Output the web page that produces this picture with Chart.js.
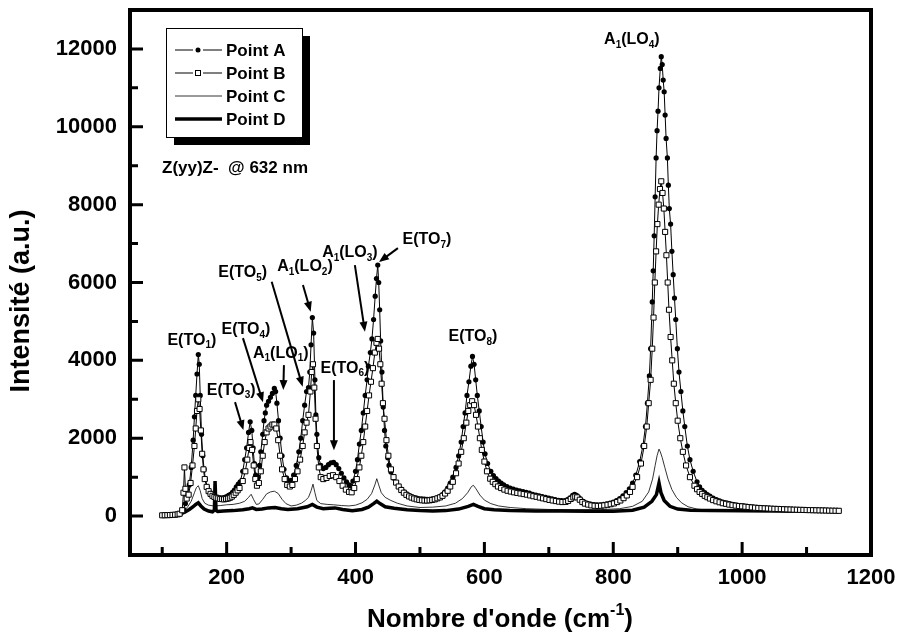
<!DOCTYPE html>
<html>
<head>
<meta charset="utf-8">
<script src="https://cdn.jsdelivr.net/npm/chart.js@4.4.1/dist/chart.umd.min.js"></script>
<style>
  html, body { margin: 0; padding: 0; background: #fff; }
  #wrap { width: 899px; height: 643px; }
</style>
</head>
<body>
<div id="wrap"><canvas id="raman" width="899" height="643"></canvas></div>
<script>
// spectra: [wavenumber cm-1, intensity a.u.]
const seriesNames = ['Point A', 'Point B', 'Point C', 'Point D'];

const pointA = [[100,20],[103,20],[106,22],[109,23],[112,25],[115,27],[118,30],[121,36],[124,45],[127,60],[129,80],[131,120],[133,170],[136,320],[139,520],[142,800],[145,1250],[148,1950],[150,2550],[152,3100],[154,3650],[156,4150],[157.5,3900],[159,3100],[161,2100],[163,1550],[165,1200],[167,950],[170,750],[173,620],[176,550],[179,510],[182,490],[185,470],[188,460],[191,460],[194,470],[197,480],[200,500],[203,530],[206,560],[209,610],[212,670],[215,750],[218,820],[221,880],[225,1150],[228,1450],[231,1750],[234,2150],[236.5,2420],[239,2200],[241,1750],[243,1350],[245,1050],[247,930],[249,1000],[251,1300],[253,1650],[256,2100],[258,2450],[260,2650],[262,2850],[265,2950],[268,3050],[271,3150],[274,3280],[276,3200],[278,2900],[280.5,2450],[283,2000],[286,1550],[289,1200],[293,980],[297,900],[300,920],[304,1050],[308,1300],[312,1650],[315,2000],[318,2450],[321,2850],[324,3200],[327,3300],[329,3700],[331,4400],[333,5100],[335,4700],[337,3500],[338.5,2600],[340,2100],[343,1500],[346,1300],[350,1220],[354,1250],[358,1320],[362,1370],[366,1380],[370,1320],[374,1220],[378,1100],[382,980],[386,880],[390,800],[393,770],[396,900],[400,1150],[403,1450],[406,1850],[409,2200],[412,2650],[415,3100],[418,3500],[420,3850],[423,4200],[425.5,4550],[428,5050],[430.5,5650],[432.5,6100],[434.5,6450],[436,6000],[437.5,5300],[439,4500],[441,3700],[443,2800],[445,2200],[447,1800],[450,1500],[452,1300],[455,1130],[459,980],[463,860],[467,760],[471,690],[475,620],[479,570],[483,530],[487,500],[491,475],[495,460],[499,445],[503,440],[507,435],[511,430],[515,430],[519,440],[523,450],[527,470],[531,500],[535,550],[539,620],[543,720],[547,850],[551,1000],[556,1250],[560,1550],[564,1900],[567,2300],[570,2650],[573,3100],[576,3450],[579,3850],[581.5,4100],[584,3900],[586.5,3500],[589,3100],[592,2700],[595,2300],[598,1900],[601,1600],[605,1350],[610,1150],[614,1040],[618,960],[622,900],[626,850],[630,800],[635,760],[640,720],[645,690],[650,670],[655,650],[660,630],[665,610],[670,590],[675,560],[680,540],[685,520],[690,500],[695,480],[700,460],[705,440],[710,420],[715,405],[720,395],[725,400],[729,420],[733,470],[737,530],[740,560],[743,530],[747,470],[751,400],[755,360],[760,330],[765,310],[770,295],[775,290],[780,290],[785,300],[790,315],[795,335],[800,360],[805,400],[810,450],[815,520],[820,600],[825,700],[830,850],[835,1050],[841,1400],[846,1800],[850,2300],[853,2900],[856,3600],[858,4300],[860.5,5500],[862,6300],[863.5,7200],[865,8200],[866.5,9200],[868,9900],[869.5,10400],[871,11000],[873,11500],[874.5,11800],[876,11600],[877.5,11200],[879,10900],[880.5,10300],[882,9700],[884,9200],[885.5,8500],[887,7900],[889,7500],[891,6800],[893,6200],[895,5600],[897,5050],[899.5,4300],[902,3700],[905,3200],[908,2700],[911,2300],[915,1800],[919,1450],[924,1150],[930,880],[934,750],[938,660],[942,600],[946,550],[950,510],[955,460],[960,420],[965,390],[970,360],[975,340],[980,320],[985,300],[990,285],[995,270],[1000,260],[1005,250],[1010,240],[1015,230],[1020,220],[1025,215],[1030,210],[1035,205],[1040,200],[1045,195],[1050,190],[1055,185],[1060,180],[1065,178],[1070,175],[1075,172],[1080,168],[1085,165],[1090,163],[1095,160],[1100,158],[1105,155],[1110,153],[1115,150],[1120,148],[1125,146],[1130,145],[1135,143],[1140,142],[1145,141],[1150,140]];

const pointB = [[100,20],[104,22],[108,24],[112,26],[116,30],[120,35],[124,45],[127,60],[131,150],[133,600],[134.5,1250],[136,700],[138,450],[141,550],[144,850],[147,1300],[150,1800],[152,2250],[154,2700],[156,3000],[158,2750],[160,2200],[162,1600],[164,1200],[166,950],[169,750],[172,640],[175,570],[178,520],[181,490],[184,470],[187,455],[190,440],[193,435],[196,430],[199,440],[202,450],[205,470],[208,500],[211,545],[214,600],[217,660],[220,720],[225,900],[229,1150],[232,1450],[235,1750],[237,1900],[239.5,1700],[242,1300],[244.5,950],[247,780],[250,850],[253,1150],[256,1550],[259,1900],[262,2150],[265,2250],[268,2300],[271,2350],[274,2350],[277,2250],[280,1950],[283,1550],[286,1200],[290,950],[294,800],[298,760],[302,800],[306,950],[310,1150],[314,1450],[318,1800],[321,2150],[324,2400],[327,2600],[330,3200],[332,3700],[334,3900],[336,3300],[338,2500],[340,1800],[343,1250],[346,1000],[350,950],[355,980],[360,1030],[365,1050],[370,1000],[375,900],[380,780],[385,680],[390,620],[394,610],[398,720],[402,950],[406,1250],[409,1550],[412,1900],[415,2300],[418,2700],[421,3100],[424,3450],[427,3800],[430,4200],[432.5,4450],[434.5,4550],[436.5,4300],[438.5,3900],[440.5,3400],[442.5,2900],[445,2500],[448,1950],[451,1550],[455,1200],[459,1000],[463,860],[467,760],[471,670],[475,600],[479,545],[483,505],[487,475],[491,450],[495,430],[499,415],[503,405],[507,400],[511,400],[515,405],[519,415],[523,430],[527,455],[531,480],[535,520],[539,580],[543,650],[547,760],[551,880],[556,1100],[560,1350],[564,1650],[568,2000],[572,2400],[575,2700],[578,2850],[581,2950],[584,2850],[587,2600],[590,2300],[593,2000],[596,1700],[600,1400],[604,1150],[609,960],[613,880],[617,820],[621,760],[626,720],[631,680],[636,650],[641,630],[646,610],[651,595],[656,580],[661,565],[666,550],[671,530],[676,510],[681,495],[686,475],[691,455],[696,435],[701,415],[706,400],[711,385],[716,370],[721,360],[726,365],[730,390],[734,440],[738,480],[741,500],[744,480],[748,420],[752,360],[756,320],[761,295],[766,275],[771,265],[776,260],[781,265],[786,275],[791,290],[796,305],[801,325],[806,360],[811,400],[816,460],[821,530],[826,620],[830,750],[837,1000],[843,1350],[848,1800],[852,2300],[855,2900],[858,3500],[860.5,4300],[862.5,5100],[864.5,6000],[866.5,6800],[868.5,7500],[870.5,8000],[872.5,8400],[874.5,8600],[876.5,8300],[878.5,7900],[880.5,7300],[882.5,6700],[884.5,6000],[886.5,5300],[889,4600],[891.5,4000],[894,3400],[897,2900],[900,2450],[904,2000],[908,1650],[913,1300],[919,1000],[926,780],[930,690],[934,620],[938,570],[942,520],[946,485],[950,450],[955,410],[960,380],[965,355],[970,330],[975,315],[980,295],[985,280],[990,268],[995,258],[1000,250],[1005,240],[1010,232],[1015,223],[1020,215],[1025,208],[1030,203],[1035,199],[1040,195],[1045,190],[1050,186],[1055,183],[1060,180],[1065,176],[1070,172],[1075,169],[1080,165],[1085,163],[1090,160],[1095,158],[1100,155],[1105,153],[1110,151],[1115,149],[1120,147],[1125,145],[1130,143],[1135,140],[1140,138],[1145,137],[1150,135]];

const pointC = [[100,30],[115,35],[128,50],[134,120],[140,250],[145,380],[150,600],[153,730],[156,780],[159,650],[162,450],[166,330],[172,280],[180,260],[190,270],[200,290],[210,300],[220,330],[228,380],[234,480],[238,560],[242,420],[246,300],[250,310],[256,430],[262,570],[268,620],[274,640],[280,580],[286,430],[292,320],[300,260],[308,280],[316,330],[322,400],[327,480],[331,650],[334,820],[337,600],[340,400],[346,320],[356,300],[366,290],[378,270],[390,260],[400,280],[410,340],[418,430],[425,580],[430,800],[433,960],[436,800],[440,600],[446,480],[455,400],[465,330],[480,260],[500,220],[520,230],[540,260],[555,330],[566,450],[574,600],[580,760],[583,790],[587,700],[593,540],[600,410],[610,320],[622,260],[640,220],[665,190],[700,170],[740,165],[780,165],[810,190],[830,250],[845,380],[855,620],[861,950],[865,1300],[868,1550],[871,1720],[873,1650],[876,1500],[880,1250],[885,950],[891,680],[898,480],[906,340],[916,240],[930,180],[950,150],[980,140],[1020,140],[1060,140],[1100,135],[1150,130]];

const pointD = [[100,30],[110,35],[120,40],[128,60],[135,100],[142,170],[148,240],[152,300],[156,340],[160,260],[165,180],[172,130],[178,110],[181,150],[182,900],[183.5,150],[186,120],[195,130],[210,140],[225,160],[235,190],[240,210],[246,170],[255,180],[265,210],[275,220],[285,190],[295,170],[310,190],[325,240],[333,300],[340,230],[350,190],[360,200],[368,210],[380,170],[395,140],[410,170],[420,230],[428,320],[433,380],[438,320],[446,240],[460,200],[480,160],[500,140],[520,130],[540,140],[560,180],[575,250],[583,300],[590,250],[600,190],[615,160],[640,140],[680,130],[720,130],[760,125],[800,125],[830,150],[848,230],[860,380],[867,550],[871,850],[874,600],[879,400],[888,250],[900,180],[920,150],[950,140],[1000,135],[1050,130],[1100,125],[1150,120]];

const xMajorTicks = [200, 400, 600, 800, 1000, 1200];
const xMinorTicks = [100, 300, 500, 700, 900, 1100];
const yMajorTicks = [0, 2000, 4000, 6000, 8000, 10000, 12000];
const yMinorTicks = [1000, 3000, 5000, 7000, 9000, 11000];

// mode labels ('_{..}' = subscript), placed in data units
const peakLabels = [
  {text: 'E(TO_{1})', x: 146, y: 4520},
  {text: 'E(TO_{3})', x: 207, y: 3236},
  {text: 'E(TO_{4})', x: 230, y: 4778},
  {text: 'A_{1}(LO_{1})', x: 284, y: 4186},
  {text: 'E(TO_{5})', x: 225, y: 6242},
  {text: 'A_{1}(LO_{2})', x: 321.5, y: 6396},
  {text: 'E(TO_{6})', x: 383.6, y: 3801},
  {text: 'A_{1}(LO_{3})', x: 391.3, y: 6756},
  {text: 'E(TO_{7})', x: 510.8, y: 7090},
  {text: 'E(TO_{8})', x: 582.2, y: 4598},
  {text: 'A_{1}(LO_{4})', x: 828.9, y: 12229}
];
// arrows: [x from, y from, x to, y to]
const peakArrows = [
  [213, 2927, 226, 2208],
  [225.3, 4572, 256.4, 2927],
  [288.9, 3878, 287.9, 3236],
  [269.9, 6018, 318, 3321],
  [318.4, 5934, 330.4, 5248],
  [366.5, 3493, 366.5, 1694],
  [399, 6448, 414.6, 4734],
  [465.8, 6884, 436.3, 6525]
];
const noteText = 'Z(yy)Z-  @ 632 nm';
const xTitle = "Nombre d'onde (cm^{-1})";
const yTitle = 'Intensité (a.u.)';

const FONT = '"Liberation Sans", Arial, Helvetica, sans-serif';
const toXY = arr => arr.map(p => ({x: p[0], y: p[1]}));

function parseRich(str) {
  const parts = [];
  const re = /_\{([^}]*)\}|\^\{([^}]*)\}|([^_^]+)/g;
  let m;
  while ((m = re.exec(str)) !== null) {
    if (m[1] !== undefined) parts.push({t: m[1], k: 'sub'});
    else if (m[2] !== undefined) parts.push({t: m[2], k: 'sup'});
    else parts.push({t: m[3], k: ''});
  }
  return parts;
}

function drawRich(ctx, str, cx, cy, size) {
  const parts = parseRich(str);
  const big = 'bold ' + size + 'px ' + FONT;
  const small = 'bold ' + Math.round(size * 0.62) + 'px ' + FONT;
  let w = 0;
  parts.forEach(p => { ctx.font = p.k ? small : big; p.w = ctx.measureText(p.t).width; w += p.w; });
  let x = cx - w / 2;
  ctx.textAlign = 'left';
  ctx.textBaseline = 'middle';
  parts.forEach(p => {
    ctx.font = p.k ? small : big;
    let dy = 0;
    if (p.k === 'sub') dy = size * 0.35;
    if (p.k === 'sup') dy = -size * 0.38;
    ctx.fillText(p.t, x, cy + dy);
    x += p.w;
  });
}

function arrow(ctx, x1, y1, x2, y2) {
  const a = Math.atan2(y2 - y1, x2 - x1);
  const hl = 10, hw = 4;
  ctx.beginPath();
  ctx.moveTo(x1, y1);
  ctx.lineTo(x2 - Math.cos(a) * hl * 0.8, y2 - Math.sin(a) * hl * 0.8);
  ctx.lineWidth = 2;
  ctx.stroke();
  ctx.beginPath();
  ctx.moveTo(x2, y2);
  ctx.lineTo(x2 - Math.cos(a) * hl - Math.sin(a) * hw, y2 - Math.sin(a) * hl + Math.cos(a) * hw);
  ctx.lineTo(x2 - Math.cos(a) * hl + Math.sin(a) * hw, y2 - Math.sin(a) * hl - Math.cos(a) * hw);
  ctx.closePath();
  ctx.fill();
}

const decorPlugin = {
  id: 'decor',
  afterDatasetsDraw(chart) {
    const ctx = chart.ctx;
    const ca = chart.chartArea;
    const xs = chart.scales.x, ys = chart.scales.y;
    ctx.save();
    ctx.fillStyle = '#000';
    ctx.strokeStyle = '#000';

    // frame
    ctx.lineWidth = 4;
    ctx.strokeRect(ca.left, ca.top, ca.right - ca.left, ca.bottom - ca.top);

    // inward ticks
    ctx.lineWidth = 3;
    ctx.beginPath();
    xMajorTicks.forEach(v => { const p = xs.getPixelForValue(v); ctx.moveTo(p, ca.bottom); ctx.lineTo(p, ca.bottom - 13); });
    xMinorTicks.forEach(v => { const p = xs.getPixelForValue(v); ctx.moveTo(p, ca.bottom); ctx.lineTo(p, ca.bottom - 8); });
    yMajorTicks.forEach(v => { const p = ys.getPixelForValue(v); ctx.moveTo(ca.left, p); ctx.lineTo(ca.left + 13, p); });
    yMinorTicks.forEach(v => { const p = ys.getPixelForValue(v); ctx.moveTo(ca.left, p); ctx.lineTo(ca.left + 8, p); });
    ctx.stroke();

    // peak labels and arrows
    peakLabels.forEach(l => drawRich(ctx, l.text, xs.getPixelForValue(l.x), ys.getPixelForValue(l.y), 16));
    peakArrows.forEach(a => arrow(ctx, xs.getPixelForValue(a[0]), ys.getPixelForValue(a[1]),
                                       xs.getPixelForValue(a[2]), ys.getPixelForValue(a[3])));

    // measurement note
    ctx.font = 'bold 17px ' + FONT;
    ctx.textAlign = 'left';
    ctx.textBaseline = 'middle';
    ctx.fillText(noteText, ca.left + 32, ca.top + 158);

    // legend with drop shadow
    const lx = ca.left + 36, ly = ca.top + 18, lw = 136, lh = 109;
    ctx.fillRect(lx + 8, ly + 8, lw, lh);
    ctx.fillStyle = '#fff';
    ctx.fillRect(lx, ly, lw, lh);
    ctx.fillStyle = '#000';
    ctx.lineWidth = 1;
    ctx.strokeRect(lx + 0.5, ly + 0.5, lw, lh);
    chart.data.datasets.forEach((ds, i) => {
      const ry = ly + 22 + i * 23;
      const s0 = lx + 9, s1 = lx + 56, mid = lx + 32;
      ctx.strokeStyle = '#000';
      ctx.lineWidth = ds.borderWidth;
      ctx.beginPath();
      if (ds.pointRadius > 0) {
        ctx.moveTo(s0, ry); ctx.lineTo(mid - 5, ry);
        ctx.moveTo(mid + 5, ry); ctx.lineTo(s1, ry);
      } else {
        ctx.moveTo(s0, ry); ctx.lineTo(s1, ry);
      }
      ctx.stroke();
      if (ds.pointStyle === 'circle') {
        ctx.beginPath(); ctx.arc(mid, ry, 2.5, 0, Math.PI * 2); ctx.fill();
      } else if (ds.pointStyle === 'rect') {
        ctx.lineWidth = 1;
        ctx.fillStyle = '#fff'; ctx.fillRect(mid - 2.5, ry - 2.5, 5, 5);
        ctx.fillStyle = '#000'; ctx.strokeRect(mid - 2.5, ry - 2.5, 5, 5);
      }
      ctx.font = 'bold 17px ' + FONT;
      ctx.textAlign = 'left';
      ctx.textBaseline = 'middle';
      ctx.fillText(ds.label, lx + 60, ry + 1);
    });

    // axis titles
    drawRich(ctx, xTitle, 500, 620, 26);
    ctx.translate(22, 301);
    ctx.rotate(-Math.PI / 2);
    drawRich(ctx, yTitle, 0, 0, 27);
    ctx.restore();
  }
};

const tickFont = {family: FONT, size: 22, weight: 'bold'};
const noPad = s => { s.paddingTop = 0; s.paddingBottom = 0; s.paddingLeft = 0; s.paddingRight = 0; };

new Chart(document.getElementById('raman').getContext('2d'), {
  type: 'line',
  data: {
    datasets: [
      {label: seriesNames[0], data: toXY(pointA), borderColor: '#000', borderWidth: 1, pointStyle: 'circle',
       pointRadius: 2.6, pointBackgroundColor: '#000', pointBorderWidth: 0, tension: 0, order: 1},
      {label: seriesNames[1], data: toXY(pointB), borderColor: '#000', borderWidth: 1, pointStyle: 'rect',
       pointRadius: 3.6, pointBackgroundColor: '#fff', pointBorderColor: '#000', pointBorderWidth: 1, tension: 0, order: 0},
      {label: seriesNames[2], data: toXY(pointC), borderColor: '#000', borderWidth: 0.8, pointRadius: 0, tension: 0, order: 2},
      {label: seriesNames[3], data: toXY(pointD), borderColor: '#000', borderWidth: 3.5, pointRadius: 0, tension: 0, order: 3}
    ]
  },
  options: {
    responsive: false,
    animation: false,
    events: [],
    layout: {padding: {top: 10, right: 28, left: 0, bottom: 0}},
    plugins: {legend: {display: false}, tooltip: {enabled: false}},
    scales: {
      x: {
        type: 'linear', min: 50, max: 1200,
        afterBuildTicks: s => { s.ticks = xMajorTicks.map(v => ({value: v})); },
        afterFit: s => { s.height = 88; noPad(s); },
        grid: {display: false, drawTicks: false},
        border: {display: false},
        ticks: {font: tickFont, color: '#000', padding: 10, maxRotation: 0, autoSkip: false, callback: v => String(v)}
      },
      y: {
        type: 'linear', min: -1000, max: 13000,
        afterBuildTicks: s => { s.ticks = yMajorTicks.map(v => ({value: v})); },
        afterFit: s => { s.width = 130; noPad(s); },
        grid: {display: false, drawTicks: false},
        border: {display: false},
        ticks: {font: tickFont, color: '#000', padding: 13, autoSkip: false, callback: v => String(v)}
      }
    }
  },
  plugins: [decorPlugin]
});
</script>
</body>
</html>
